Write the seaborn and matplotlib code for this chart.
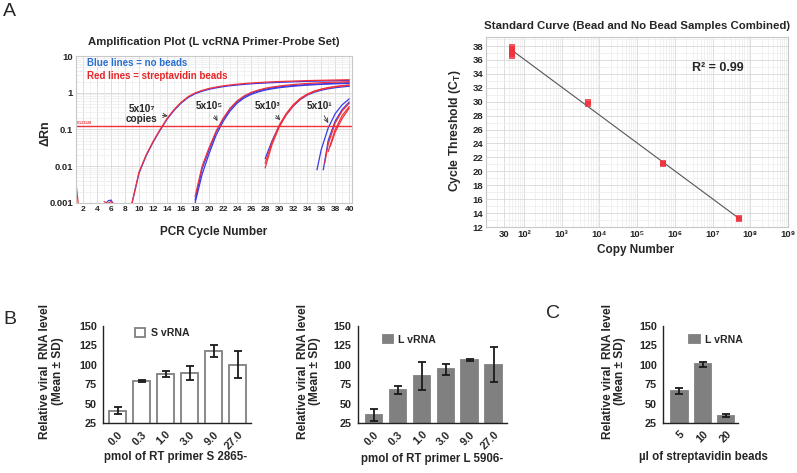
import numpy as np
import pandas as pd
import seaborn as sns
import matplotlib.pyplot as plt
from matplotlib.patches import Patch
from matplotlib.ticker import FixedLocator, LogLocator, NullFormatter, MultipleLocator

# ---------------- panel A (left): amplification plot, dRn
threshold = 0.121128

g1_cycles = list(range(9, 41))
g1_blue = [0.001, 0.0065, 0.019, 0.045, 0.095, 0.19, 0.33, 0.52, 0.74, 0.94, 1.1, 1.24,
           1.36, 1.46, 1.55, 1.62, 1.69, 1.75, 1.8, 1.84, 1.88, 1.92, 1.95, 1.98, 2.01,
           2.04, 2.06, 2.08, 2.1, 2.12, 2.14, 2.16]
g1_red = [0.001, 0.007, 0.02, 0.047, 0.1, 0.2, 0.35, 0.55, 0.78, 0.99, 1.16, 1.31,
          1.43, 1.54, 1.63, 1.71, 1.78, 1.84, 1.89, 1.94, 1.98, 2.02, 2.05, 2.08, 2.11,
          2.14, 2.16, 2.18, 2.2, 2.22, 2.24, 2.26]

g2_cycles = list(range(18, 41))
g2_blue_a = [0.0012, 0.0085, 0.028, 0.085, 0.19, 0.36, 0.57, 0.78, 0.97, 1.12, 1.25, 1.35,
             1.44, 1.51, 1.57, 1.62, 1.67, 1.71, 1.75, 1.78, 1.81, 1.84, 1.87]
g2_blue_b = [0.001, 0.006, 0.022, 0.07, 0.165, 0.32, 0.52, 0.72, 0.9, 1.05, 1.18, 1.28,
             1.37, 1.44, 1.5, 1.56, 1.61, 1.65, 1.69, 1.72, 1.75, 1.78, 1.8]
g2_red = [0.0015, 0.01, 0.032, 0.09, 0.2, 0.38, 0.6, 0.82, 1.02, 1.18, 1.32, 1.43,
          1.52, 1.6, 1.67, 1.73, 1.78, 1.83, 1.87, 1.91, 1.94, 1.97, 2.0]

g3_cycles = list(range(28, 41))
g3_blue = [0.016, 0.05, 0.125, 0.25, 0.43, 0.65, 0.86, 1.03, 1.17, 1.28, 1.37, 1.44, 1.5]
g3_red_a = [0.009, 0.04, 0.115, 0.25, 0.44, 0.67, 0.89, 1.08, 1.23, 1.35, 1.45, 1.53, 1.6]
g3_red_b = [0.012, 0.046, 0.13, 0.27, 0.47, 0.7, 0.92, 1.11, 1.26, 1.38, 1.48, 1.56, 1.63]

g4_blue_a_cycles = [35.4, 36, 37, 38, 39, 40]
g4_blue_a = [0.008, 0.028, 0.11, 0.27, 0.47, 0.68]
g4_blue_b_cycles = [36.3, 37, 38, 39, 40]
g4_blue_b = [0.008, 0.05, 0.17, 0.35, 0.56]
g4_red_a_cycles = [36.5, 37, 38, 39, 40]
g4_red_a = [0.012, 0.04, 0.15, 0.32, 0.52]
g4_red_b_cycles = [37.0, 38, 39, 40]
g4_red_b = [0.025, 0.1, 0.24, 0.42]
g4_red_c_cycles = [37.3, 38, 39, 40]
g4_red_c = [0.035, 0.085, 0.2, 0.38]

noise_red_cycles = [1.0, 1.4]
noise_red = [0.0035, 0.0007]
noise_blue_cycles = [5.2, 5.6, 6.0, 6.4]
noise_blue = [0.00095, 0.00115, 0.0012, 0.0009]
noise_red2_cycles = [5.0, 5.5, 6.0, 6.5]
noise_red2 = [0.0011, 0.00095, 0.0011, 0.0009]

# ---------------- panel A (right): standard curve
copy_number = [50, 50, 50, 50, 50, 5e3, 5e3, 5e5, 5e5, 5e7, 5e7]
ct_value = [36.6, 36.9, 37.2, 37.6, 37.9, 29.7, 29.9, 21.0, 21.2, 13.1, 13.3]
copy_ticks = [30, 1e2, 1e3, 1e4, 1e5, 1e6, 1e7, 1e8, 1e9]
copy_ticklabels = ["30", "10²", "10³", "10⁴", "10⁵", "10⁶", "10⁷", "10⁸", "10⁹"]

# ---------------- panels B and C: relative viral RNA (mean, SD)
primer_pmol = ["0.0", "0.3", "1.0", "3.0", "9.0", "27.0"]
s_vrna_mean = [41.0, 79.5, 88.5, 89.8, 118.3, 100.3]
s_vrna_sd = [4.3, 1.5, 3.7, 9.2, 7.7, 17.5]
l_vrna_mean = [35.6, 67.4, 85.2, 94.4, 106.0, 100.3]
l_vrna_sd = [7.4, 5.6, 17.8, 7.2, 1.2, 23.0]
bead_ul = ["5", "10", "20"]
bead_mean = [66.0, 100.6, 34.2]
bead_sd = [4.2, 2.8, 2.1]

BLUE = "#3a3ae6"
RED = "#f0303a"
GRAY = "#808080"

sns.set_style("white")
plt.rcParams["font.family"] = ["Liberation Sans", "DejaVu Sans"]
plt.rcParams["font.weight"] = "bold"
plt.rcParams["axes.labelweight"] = "bold"
plt.rcParams["axes.titleweight"] = "bold"
plt.rcParams["mathtext.fontset"] = "custom"
plt.rcParams["mathtext.rm"] = "Liberation Sans:bold"
plt.rcParams["mathtext.it"] = "Liberation Sans:bold"

W, H = 797, 473
fig = plt.figure(figsize=(W / 100, H / 100), dpi=100)


def px_axes(left, top, right, bottom):
    return fig.add_axes([left / W, 1 - bottom / H, (right - left) / W, (bottom - top) / H])


# ================= A left
ax = px_axes(76, 56, 352, 203)
amp_lines = [
    ("no beads", g1_cycles, g1_blue), ("beads", g1_cycles, g1_red),
    ("no beads", g2_cycles, g2_blue_a), ("no beads", g2_cycles, g2_blue_b),
    ("beads", g2_cycles, g2_red),
    ("no beads", g3_cycles, g3_blue), ("beads", g3_cycles, g3_red_a),
    ("beads", g3_cycles, g3_red_b),
    ("no beads", g4_blue_a_cycles, g4_blue_a), ("no beads", g4_blue_b_cycles, g4_blue_b),
    ("beads", g4_red_a_cycles, g4_red_a), ("beads", g4_red_b_cycles, g4_red_b),
    ("beads", g4_red_c_cycles, g4_red_c),
    ("beads", noise_red_cycles, noise_red), ("no beads", noise_blue_cycles, noise_blue),
    ("beads", noise_red2_cycles, noise_red2),
]
rows = []
for i, (sample, cyc, vals) in enumerate(amp_lines):
    for c, v in zip(cyc, vals):
        rows.append((i, sample, c, v))
amp = pd.DataFrame(rows, columns=["line", "sample", "cycle", "dRn"])

sns.lineplot(data=amp, x="cycle", y="dRn", hue="sample", units="line", estimator=None,
             hue_order=["no beads", "beads"], palette={"no beads": BLUE, "beads": RED},
             lw=0.9, legend=False, sort=False, ax=ax)
ax.axhline(threshold, color=RED, lw=1.0)
ax.text(1.15, threshold * 1.07, "0.121128", color=RED, fontsize=2.6, va="bottom")

ax.set_yscale("log")
ax.set_ylim(0.001, 10)
ax.set_xlim(1, 40.4)
ax.set_xticks(range(2, 41, 2))
ax.xaxis.set_minor_locator(FixedLocator(range(1, 41)))
ax.set_yticks([0.001, 0.01, 0.1, 1, 10])
ax.set_yticklabels(["0.001", "0.01", "0.1", "1", "10"])
ax.yaxis.set_minor_locator(LogLocator(subs=np.arange(2, 10)))
ax.yaxis.set_minor_formatter(NullFormatter())
ax.grid(which="major", color="#d8d8d8", lw=0.6)
ax.grid(which="minor", color="#ececec", lw=0.5)
ax.tick_params(which="both", length=0, pad=2)
ax.tick_params(axis="x", labelsize=6)
ax.tick_params(axis="y", labelsize=6.8)
for s in ax.spines.values():
    s.set_color("#c8c8c8")
    s.set_linewidth(0.8)
ax.set_title("Amplification Plot (L vcRNA Primer-Probe Set)", fontsize=8.2, pad=8)
ax.set_xlabel("PCR Cycle Number", fontsize=8.5, va="center")
ax.xaxis.set_label_coords(0.5, -0.197)
ax.set_ylabel("ΔRn", fontsize=9, va="center")
ax.yaxis.set_label_coords(-0.112, 0.476)

ax.text(0.04, 0.952, "Blue lines = no beads", color="#2a6fd0", fontsize=7,
        transform=ax.transAxes, va="center")
ax.text(0.04, 0.864, "Red lines = streptavidin beads", color="#e8262a", fontsize=7,
        transform=ax.transAxes, va="center")

arrow = dict(arrowstyle="->", lw=0.6, color="#333333", shrinkA=1, shrinkB=0)
for label, tip, txt in [("5x10⁷\ncopies", (14.1, 0.235), (10.4, 0.27)),
                        ("5x10⁵", (21.2, 0.17), (20.0, 0.43)),
                        ("5x10³", (30.15, 0.18), (28.3, 0.43)),
                        ("5x10¹", (37.0, 0.15), (35.7, 0.43))]:
    ax.annotate(label, xy=tip, xytext=txt, ha="center", va="center", fontsize=7.2,
                linespacing=1.0, arrowprops=arrow)

# ================= A right
ax = px_axes(486, 37, 788, 227)
sns.regplot(x=copy_number, y=ct_value, logx=True, ci=None, marker="s", ax=ax,
            scatter_kws=dict(color=RED, s=14, linewidths=0, zorder=3),
            line_kws=dict(color="#555555", lw=0.8, zorder=2))
ax.set_xscale("log")
ax.set_xlim(10, 1e9)
ax.set_ylim(12, 39.3)
ax.xaxis.set_major_locator(FixedLocator(copy_ticks))
ax.set_xticklabels(copy_ticklabels)
ax.xaxis.set_minor_locator(LogLocator(subs=np.arange(2, 10)))
ax.xaxis.set_minor_formatter(NullFormatter())
ax.yaxis.set_major_locator(MultipleLocator(2))
ax.yaxis.set_minor_locator(MultipleLocator(1))
ax.grid(which="major", color="#d8d8d8", lw=0.6)
ax.grid(which="minor", color="#ececec", lw=0.5)
ax.tick_params(which="both", length=0, pad=2, labelsize=6.8)
for s in ax.spines.values():
    s.set_color("#c8c8c8")
    s.set_linewidth(0.8)
ax.set_title("Standard Curve (Bead and No Bead Samples Combined)", fontsize=8.2, pad=6)
ax.set_xlabel("Copy Number", fontsize=8.5, va="center")
ax.xaxis.set_label_coords(0.495, -0.121)
ax.set_ylabel("Cycle Threshold (C$_\\mathrm{T}$)", fontsize=8.8, va="center")
ax.yaxis.set_label_coords(-0.103, 0.505)
ax.text(0.768, 0.837, "R² = 0.99", fontsize=9, transform=ax.transAxes,
        ha="center", va="center")


# ================= B and C bar charts
def bar_panel(box, cats, mean, sd, fill, label, xlim, leg_xy, xlabel, xlab_xy, ylab_x):
    ax = px_axes(*box)
    df = pd.DataFrame({"cat": cats, "val": mean})
    sns.barplot(data=df, x="cat", y="val", color=fill, width=0.7, errorbar=None,
                edgecolor=GRAY, linewidth=1.3, saturation=1, ax=ax)
    ax.errorbar(range(len(cats)), mean, yerr=sd, fmt="none", ecolor="#1a1a1a",
                elinewidth=1.3, capsize=3, capthick=1.3, zorder=4)
    ax.set_ylim(25, 150)
    ax.set_yticks([25, 50, 75, 100, 125, 150])
    ax.set_xlim(*xlim)
    sns.despine(ax=ax)
    for s in ("left", "bottom"):
        ax.spines[s].set_color("#222222")
        ax.spines[s].set_linewidth(1.0)
    ax.tick_params(axis="both", length=3, width=1.0, color="#222222", pad=1.5,
                   labelsize=7.8)
    for t in ax.get_xticklabels():
        t.set_rotation(45)
        t.set_ha("right")
        t.set_rotation_mode("anchor")
    ax.legend(handles=[Patch(facecolor=fill, edgecolor=GRAY, linewidth=1.3, label=label)],
              loc="center left", bbox_to_anchor=leg_xy, frameon=False, fontsize=7.6,
              handlelength=1.0, handleheight=0.9, handletextpad=0.5, borderpad=0)
    ax.set_xlabel(xlabel, fontsize=8.3, va="center")
    ax.xaxis.set_label_coords(*xlab_xy)
    ax.set_ylabel("Relative viral  RNA level\n(Mean ± SD)", fontsize=8.6, va="center",
                  linespacing=1.1)
    ax.yaxis.set_label_coords(ylab_x, 0.536)
    return ax


bar_panel((103, 326, 251, 423), primer_pmol, s_vrna_mean, s_vrna_sd, "white", "S vRNA",
          (-0.61, 5.55), (0.18, 0.93), "pmol of RT primer S 2865-", (0.49, -0.35), -0.345)
bar_panel((358, 326, 507, 423), primer_pmol, l_vrna_mean, l_vrna_sd, GRAY, "L vRNA",
          (-0.67, 5.55), (0.13, 0.86), "pmol of RT primer L 5906-", (0.497, -0.37), -0.329)
bar_panel((663, 326, 738, 423), bead_ul, bead_mean, bead_sd, GRAY, "L vRNA",
          (-0.7, 2.5), (0.28, 0.86), "µl of streptavidin beads", (0.533, -0.35), -0.653)

# panel letters
for letter, x, y in [("A", 9, 12), ("B", 10, 320), ("C", 553, 314)]:
    fig.text(x / W, 1 - y / H, letter, fontsize=14, fontweight="normal",
             ha="center", va="center")

fig.savefig("out.png", dpi=100, facecolor="white")
